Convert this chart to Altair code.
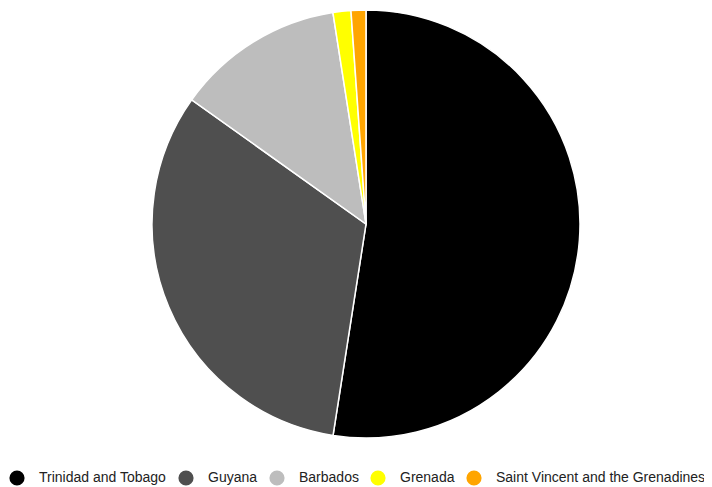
import altair as alt
import pandas as pd

countries = ["Trinidad and Tobago", "Guyana", "Barbados", "Grenada", "Saint Vincent and the Grenadines"]
shares = [52.46, 32.39, 12.68, 1.35, 1.12]
colors = ["#000000", "#4f4f4f", "#bdbdbd", "#ffff00", "#ffa500"]

df = pd.DataFrame({"country": countries, "share": shares, "idx": list(range(len(countries)))})

chart = alt.Chart(df).mark_arc(radius=214, stroke="white", strokeWidth=1.5).encode(
    theta=alt.Theta("share:Q", stack=True),
    order=alt.Order("idx:Q"),
    x=alt.value(358),
    y=alt.value(216),
    color=alt.Color(
        "country:N",
        sort=countries,
        scale=alt.Scale(domain=countries, range=colors),
        legend=alt.Legend(
            title=None,
            orient="none",
            direction="horizontal",
            legendX=1,
            legendY=462,
            gridAlign="none",
            symbolType="circle",
            symbolSize=230,
            symbolStrokeWidth=0,
            labelFont="Liberation Sans",
            labelFontSize=14,
            labelColor="#222222",
            labelOffset=14,
            columnPadding=11,
            labelLimit=400,
        ),
    ),
).properties(
    width=696, height=478, padding=0, autosize=alt.AutoSizeParams(type="none")
).configure_view(stroke=None)

chart.save("out.html", embed_options={"renderer": "svg", "actions": False})
